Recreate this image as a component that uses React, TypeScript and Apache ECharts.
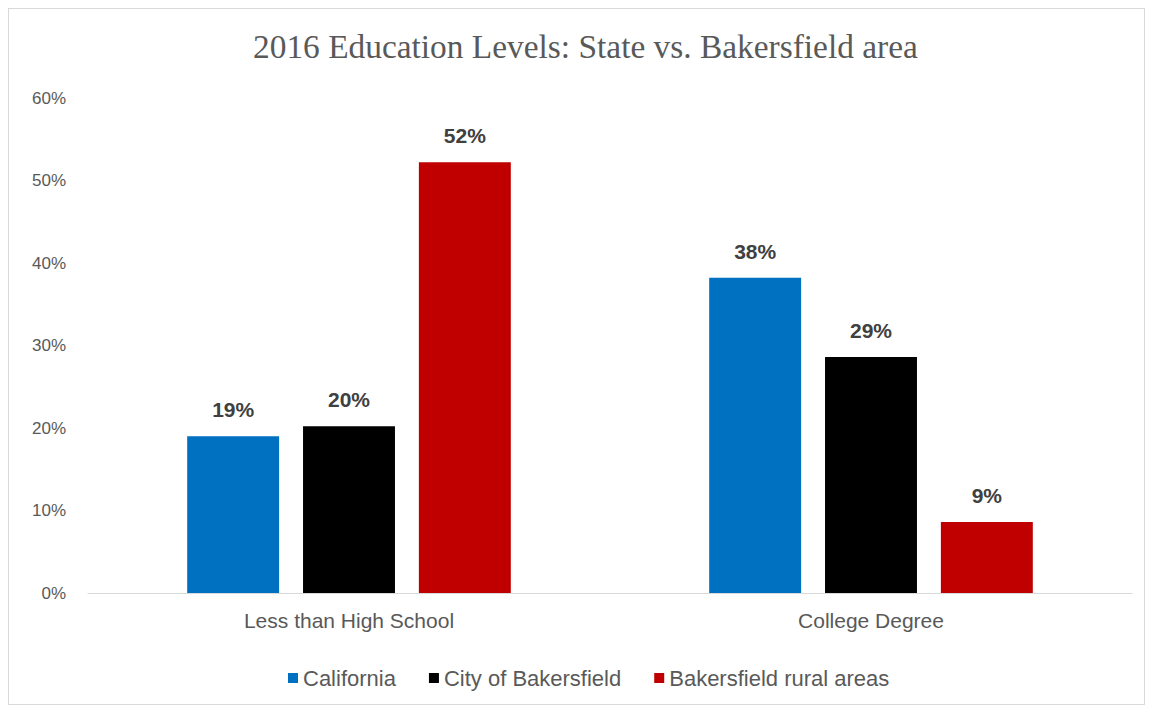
import React, { useEffect, useRef } from "react";
import * as echarts from "echarts";

const categories = ["Less than High School", "College Degree"];
const seriesNames = ["California", "City of Bakersfield", "Bakersfield rural areas"];
const california = [19.0, 38.2];
const cityOfBakersfield = [20.2, 28.6];
const ruralAreas = [52.2, 8.6];
const colors = ["#0070C0", "#000000", "#C00000"];
const yTicks = { min: 0, max: 60, interval: 10 };

export default function App() {
  const ref = useRef<HTMLDivElement>(null);
  useEffect(() => {
    if (!ref.current) return;
    const chart = echarts.init(ref.current, null, { renderer: "svg" });
    const values = [california, cityOfBakersfield, ruralAreas];
    chart.setOption({
      animation: false,
      backgroundColor: "#ffffff",
      title: {
        text: "2016 Education Levels: State vs. Bakersfield area",
        left: 244,
        top: 21,
        padding: 0,
        textStyle: {
          fontFamily: "'Liberation Serif', 'DejaVu Serif', serif",
          fontSize: 33.4,
          fontWeight: "normal",
          color: "#595959",
        },
      },
      legend: {
        left: 274,
        top: 653,
        itemWidth: 10,
        itemHeight: 10,
        itemGap: 33,
        icon: "rect",
        data: seriesNames,
        textStyle: {
          fontFamily: "'Liberation Sans', Arial, sans-serif",
          fontSize: 22,
          color: "#595959",
          padding: [0, 0, 0, 0],
        },
      },
      grid: { left: 79, right: 12, top: 89, bottom: 111, containLabel: false },
      xAxis: {
        type: "category",
        data: categories,
        axisLine: { show: true, lineStyle: { color: "#d9d9d9", width: 1 } },
        axisTick: { show: false },
        axisLabel: {
          margin: 17,
          fontFamily: "'Liberation Sans', Arial, sans-serif",
          fontSize: 21,
          color: "#595959",
        },
      },
      yAxis: {
        type: "value",
        min: yTicks.min,
        max: yTicks.max,
        interval: yTicks.interval,
        axisLine: { show: false },
        axisTick: { show: false },
        splitLine: { show: false },
        axisLabel: {
          margin: 22,
          formatter: (v: number) => v + "%",
          fontFamily: "'Liberation Sans Narrow', 'Liberation Sans', Arial, sans-serif",
          fontSize: 17,
          color: "#595959",
        },
      },
      series: seriesNames.map((name, i) => ({
        name,
        type: "bar",
        data: values[i],
        barCategoryGap: "38%",
        barGap: "26%",
        itemStyle: { color: colors[i] },
        label: {
          show: true,
          position: "top",
          distance: 16,
          formatter: (p: any) => Math.round(p.value) + "%",
          fontFamily: "'Liberation Sans', Arial, sans-serif",
          fontWeight: "bold",
          fontSize: 21,
          color: "#404040",
        },
      })),
    });
    return () => chart.dispose();
  }, []);
  return (
    <div style={{ width: 1135, height: 695, border: "1px solid #d9d9d9" }}>
      <div ref={ref} style={{ width: 1135, height: 695 }} />
    </div>
  );
}
